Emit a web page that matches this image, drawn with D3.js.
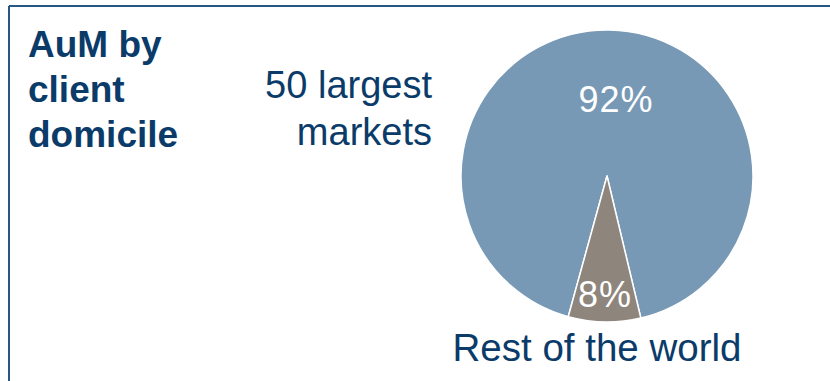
<!DOCTYPE html>
<html>
<head>
<meta charset="utf-8">
<script src="https://cdn.jsdelivr.net/npm/d3@7"></script>
<style>
	body { margin: 0; background: #fff; }
	svg { display: block; font-family: "Liberation Sans", Arial, sans-serif; }
</style>
</head>
<body>
<svg id="chart" width="830" height="381"></svg>
<script>
// Chart data
const titleLines = ["AuM by", "client", "domicile"];
const categories = ["50 largest markets", "Rest of the world"];
const shares = [92, 8];
const colors = ["#7799b5", "#8e857c"];

const navy = "#0b3b69";

whenDocumentLoaded(() => {
	const svg = d3.select("#chart");

	// frame: top and left rule
	svg.append("line")
		.attr("x1", 9).attr("y1", 6).attr("x2", 830).attr("y2", 6)
		.attr("stroke", "#285786").attr("stroke-width", 2);
	svg.append("line")
		.attr("x1", 9).attr("y1", 6).attr("x2", 9).attr("y2", 381)
		.attr("stroke", "#285786").attr("stroke-width", 2);

	// title
	svg.append("text")
		.attr("x", 28)
		.attr("y", 57)
		.attr("fill", navy)
		.style("font-size", "37px")
		.style("font-weight", "bold")
		.selectAll("tspan")
		.data(titleLines)
		.join("tspan")
		.attr("x", 28)
		.attr("dy", (d, i) => i == 0 ? 0 : 45)
		.text(d => d);

	drawPie(svg);
});

function drawPie(svg) {
	const cx = 607, cy = 176, r = 146;
	const total = d3.sum(shares);
	// small slice sits at the bottom, slightly left of centre
	const smallMid = Math.PI + Math.PI / 180;
	const start = smallMid - Math.PI * shares[1] / total - 2 * Math.PI * shares[0] / total;

	const pie = d3.pie()
		.sort(null)
		.startAngle(start)
		.endAngle(start + 2 * Math.PI)
		.value(d => d);

	const arc = d3.arc().innerRadius(0).outerRadius(r);

	const g = svg.append("g").attr("transform", `translate(${cx},${cy})`);

	g.selectAll("path")
		.data(pie(shares))
		.join("path")
		.attr("d", arc)
		.attr("fill", (d, i) => colors[i])
		.attr("stroke", "#fff")
		.attr("stroke-width", 1.5)
		.attr("stroke-linejoin", "round");

	// percentage labels inside the slices
	const labelPos = [[9, -64], [-2, 131]];
	g.selectAll("text.pct")
		.data(shares)
		.join("text")
		.attr("class", "pct")
		.attr("x", (d, i) => labelPos[i][0])
		.attr("y", (d, i) => labelPos[i][1])
		.attr("text-anchor", "middle")
		.attr("fill", "#fff")
		.style("font-size", "36px")
		.style("letter-spacing", "1px")
		.text(d => d + "%");

	// category labels
	svg.append("text")
		.attr("x", 432)
		.attr("y", 98)
		.attr("text-anchor", "end")
		.attr("fill", navy)
		.style("font-size", "38px")
		.selectAll("tspan")
		.data(["50 largest", "markets"])
		.join("tspan")
		.attr("x", 432)
		.attr("dy", (d, i) => i == 0 ? 0 : 47)
		.text(d => d);

	svg.append("text")
		.attr("x", 597)
		.attr("y", 361)
		.attr("text-anchor", "middle")
		.attr("fill", navy)
		.style("font-size", "38.5px")
		.text(categories[1]);
}

function whenDocumentLoaded(action) {
	if (document.readyState === "loading") {
		document.addEventListener("DOMContentLoaded", action);
	} else {
		action();
	}
}
</script>
</body>
</html>
